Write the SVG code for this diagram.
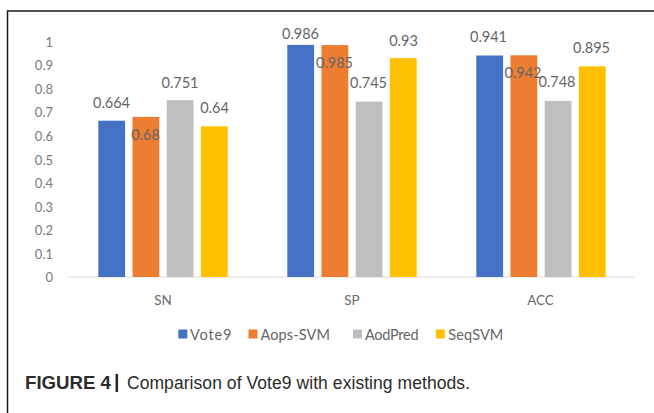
<svg xmlns="http://www.w3.org/2000/svg" width="654" height="413" viewBox="0 0 654 413">
  <style>
    .axis { font-family: Lato, "Liberation Sans", sans-serif; font-size: 13px; fill: #7a7a7a; }
    .cat { font-family: Lato, "Liberation Sans", sans-serif; font-size: 13.5px; fill: #6a6a6a; text-anchor: middle; }
    .val { font-family: Lato, "Liberation Sans", sans-serif; font-size: 14.5px; fill: #666666; text-anchor: middle; }
    .leg { font-family: Lato, "Liberation Sans", sans-serif; font-size: 14.5px; fill: #666666; }
    .s1 { fill: #4472C4; }
    .s2 { fill: #ED7D31; }
    .s3 { fill: #BFBFBF; }
    .s4 { fill: #FFC000; }
    .cap { font-family: "Liberation Sans", Arial, sans-serif; font-size: 17.5px; fill: #2b2b2b; }
  </style>

  <rect width="654" height="413" fill="#ffffff"/>
  <!-- figure frame (open at right and bottom) -->
  <path d="M7.5 413 V11 H654" fill="none" stroke="#1a1a1a" stroke-width="1.5"/>

  <!-- value axis labels -->
  <g id="y-axis" class="axis" text-anchor="end">
    <text x="53" y="46.5">1</text>
    <text x="53" y="70">0.9</text>
    <text x="53" y="93.5">0.8</text>
    <text x="53" y="117">0.7</text>
    <text x="53" y="140.5">0.6</text>
    <text x="53" y="164.5">0.5</text>
    <text x="53" y="188">0.4</text>
    <text x="53" y="211.5">0.3</text>
    <text x="53" y="235">0.2</text>
    <text x="53" y="258.5">0.1</text>
    <text x="53" y="282">0</text>
  </g>

  <!-- category baseline -->
  <line x1="68" y1="277" x2="634" y2="277" stroke="#d9d9d9" stroke-width="1.2"/>

  <!-- SN -->
  <g id="group-SN">
    <rect class="s1" x="98.3" y="120.7" width="26.8" height="156.3"/>
    <rect class="s2" x="132.5" y="116.9" width="26.8" height="160.1"/>
    <rect class="s3" x="166.7" y="100.2" width="26.8" height="176.8"/>
    <rect class="s4" x="200.9" y="126.3" width="26.8" height="150.7"/>
    <text class="val" x="111.5" y="108">0.664</text>
    <text class="val" x="145.5" y="140">0.68</text>
    <text class="val" x="180" y="87.5">0.751</text>
    <text class="val" x="214.5" y="113">0.64</text>
    <text class="cat" x="163" y="305">SN</text>
  </g>

  <!-- SP -->
  <g id="group-SP">
    <rect class="s1" x="287.3" y="44.9" width="26.8" height="232.1"/>
    <rect class="s2" x="321.5" y="45.1" width="26.8" height="231.9"/>
    <rect class="s3" x="355.7" y="101.6" width="26.8" height="175.4"/>
    <rect class="s4" x="389.9" y="58.1" width="26.8" height="218.9"/>
    <text class="val" x="300.5" y="38.5">0.986</text>
    <text class="val" x="334.5" y="68.3">0.985</text>
    <text class="val" x="368.5" y="88.3">0.745</text>
    <text class="val" x="403.5" y="45.7">0.93</text>
    <text class="cat" x="352" y="305">SP</text>
  </g>

  <!-- ACC -->
  <g id="group-ACC">
    <rect class="s1" x="476.3" y="55.5" width="26.8" height="221.5"/>
    <rect class="s2" x="510.5" y="55.3" width="26.8" height="221.7"/>
    <rect class="s3" x="544.7" y="100.9" width="26.8" height="176.1"/>
    <rect class="s4" x="578.9" y="66.3" width="26.8" height="210.7"/>
    <text class="val" x="488.5" y="41.7">0.941</text>
    <text class="val" x="523" y="78.3">0.942</text>
    <text class="val" x="557" y="87.3">0.748</text>
    <text class="val" x="591.5" y="53.3">0.895</text>
    <text class="cat" x="540.5" y="305">ACC</text>
  </g>

  <!-- legend -->
  <g id="legend" class="leg">
    <rect class="s1" x="178.3" y="329.5" width="9" height="9"/>
    <text x="190" y="339.5" textLength="41.5">Vote9</text>
    <rect class="s2" x="248.5" y="329.5" width="9" height="9"/>
    <text x="260.5" y="339.5" textLength="69.5">Aops-SVM</text>
    <rect class="s3" x="353" y="329.5" width="9" height="9"/>
    <text x="365" y="339.5" textLength="53.5">AodPred</text>
    <rect class="s4" x="435.8" y="329.5" width="9" height="9"/>
    <text x="448.3" y="339.5" textLength="55">SeqSVM</text>
  </g>

  <!-- caption -->
  <g id="caption">
    <text class="cap" x="25" y="389" font-weight="bold" textLength="86" lengthAdjust="spacingAndGlyphs">FIGURE 4</text>
    <rect x="115.5" y="374" width="2.6" height="18" fill="#2b2b2b"/>
    <text class="cap" x="127" y="389" textLength="343">Comparison of Vote9 with existing methods.</text>
  </g>
</svg>
